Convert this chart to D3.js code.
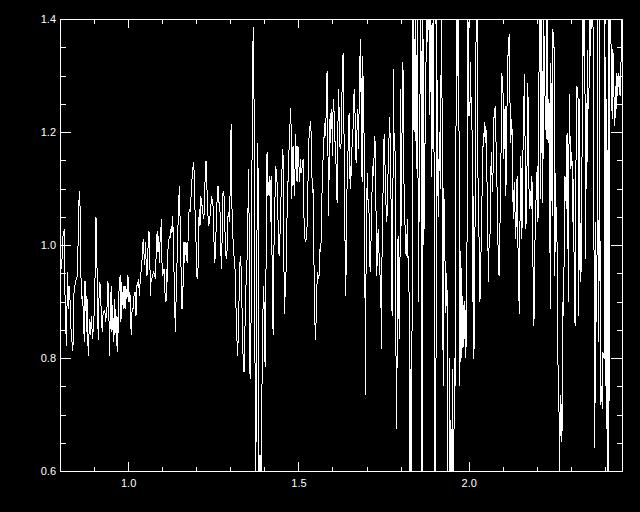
<!DOCTYPE html>
<html>
<head>
<meta charset="utf-8">
<script src="https://cdn.jsdelivr.net/npm/d3@7"></script>
<style>
html, body { margin: 0; padding: 0; background: #000; }
svg { display: block; }
.axis text { fill: #fff; font-family: "Liberation Sans", Arial, sans-serif; font-size: 11px; }
.axis line { stroke: #fff; shape-rendering: crispEdges; }
.axis path { display: none; }
</style>
</head>
<body>
<div id="chart"></div>
<script>
// wavelength grid
var wavelength = [
    0.8008,0.8047,0.8087,0.8126,0.8145,0.8185,0.8224,0.8253,0.8282,0.8312,
    0.8341,0.8380,0.8400,0.8439,0.8478,0.8517,0.8537,0.8566,0.8586,0.8606,
    0.8635,0.8664,0.8694,0.8713,0.8733,0.8752,0.8772,0.8792,0.8811,0.8840,
    0.8860,0.8889,0.8909,0.8929,0.8948,0.8968,0.8987,0.9007,0.9026,0.9056,
    0.9075,0.9095,0.9124,0.9144,0.9173,0.9203,0.9222,0.9242,0.9261,0.9281,
    0.9301,0.9320,0.9340,0.9359,0.9379,0.9399,0.9418,0.9438,0.9457,0.9477,
    0.9506,0.9526,0.9545,0.9575,0.9594,0.9614,0.9633,0.9653,0.9673,0.9692,
    0.9722,0.9741,0.9771,0.9790,0.9810,0.9829,0.9859,0.9878,0.9908,0.9927,
    0.9947,0.9966,0.9986,1.0005,1.0025,1.0054,1.0074,1.0094,1.0113,1.0143,
    1.0172,1.0191,1.0211,1.0231,1.0250,1.0270,1.0289,1.0309,1.0329,1.0358,
    1.0378,1.0397,1.0417,1.0436,1.0456,1.0475,1.0495,1.0515,1.0534,1.0554,
    1.0573,1.0593,1.0612,1.0632,1.0652,1.0671,1.0691,1.0720,1.0750,1.0769,

    1.0779,1.0808,1.0828,1.0857,1.0877,1.0896,1.0916,1.0936,1.0955,1.0975,
    1.0994,1.1014,1.1034,1.1053,1.1073,1.1092,1.1112,1.1131,1.1151,1.1171,
    1.1190,1.1210,1.1229,1.1249,1.1269,1.1288,1.1308,1.1327,1.1347,1.1366,
    1.1386,1.1406,1.1425,1.1445,1.1464,1.1484,1.1503,1.1523,1.1543,1.1562,
    1.1582,1.1601,1.1621,1.1641,1.1660,1.1680,1.1699,1.1719,1.1738,1.1758,
    1.1778,1.1797,1.1817,1.1836,1.1856,1.1876,1.1895,1.1915,1.1934,1.1954,
    1.1973,1.1993,1.2013,1.2032,1.2052,1.2071,1.2091,1.2110,1.2130,1.2150,
    1.2169,1.2189,1.2208,1.2228,1.2248,1.2267,1.2287,1.2306,1.2326,1.2345,
    1.2365,1.2385,1.2404,1.2424,1.2443,1.2463,1.2482,1.2502,1.2522,1.2541,
    1.2561,1.2580,1.2600,1.2620,1.2639,1.2659,1.2678,1.2698,1.2717,1.2737,
    1.2757,1.2776,1.2796,1.2815,1.2835,1.2855,1.2874,1.2894,1.2913,1.2933,
    1.2952,1.2972,1.2992,1.3011,1.3031,1.3050,1.3070,1.3089,1.3109,1.3129,
    1.3148,1.3168,1.3187,1.3207,1.3227,1.3246,1.3266,1.3285,1.3305,1.3324,
    1.3344,1.3364,1.3383,1.3403,1.3422,1.3442,1.3461,1.3481,1.3501,1.3520,
    1.3540,1.3559,1.3579,1.3599,1.3618,

    1.3658,1.3678,1.3698,1.3717,1.3737,1.3756,1.3776,1.3795,1.3815,1.3835,
    1.3854,1.3874,1.3893,1.3923,1.3952,1.3981,1.4001,1.4021,1.4040,1.4060,
    1.4079,1.4099,1.4118,1.4138,1.4158,1.4177,1.4197,1.4216,1.4236,1.4256,
    1.4275,1.4295,1.4314,1.4334,1.4353,1.4373,1.4393,1.4412,1.4432,1.4451,
    1.4471,1.4490,1.4510,1.4530,1.4549,1.4569,1.4588,1.4608,1.4628,1.4647,
    1.4667,1.4686,1.4706,1.4725,1.4745,1.4765,1.4784,1.4804,1.4823,1.4843,
    1.4862,1.4882,1.4902,1.4921,1.4941,1.4960,1.4980,1.5000,1.5019,1.5039,
    1.5058,1.5078,1.5097,1.5117,1.5137,1.5156,1.5176,1.5195,1.5215,1.5235,
    1.5254,1.5274,1.5293,1.5313,1.5332,1.5352,1.5372,1.5391,1.5411,1.5430,
    1.5450,1.5469,1.5489,1.5509,1.5528,1.5548,1.5567,1.5587,1.5607,1.5626,
    1.5646,1.5665,1.5685,1.5704,1.5724,1.5744,1.5763,1.5783,1.5802,1.5822,
    1.5842,1.5861,1.5881,1.5900,1.5920,1.5939,1.5959,1.5979,1.5998,1.6018,
    1.6037,1.6057,1.6076,1.6096,1.6116,1.6135,1.6155,1.6174,1.6194,1.6214,
    1.6233,1.6253,1.6272,1.6292,1.6311,1.6331,1.6351,1.6370,1.6390,1.6409,
    1.6429,1.6449,1.6468,

    1.6498,1.6517,1.6537,1.6556,1.6576,1.6595,1.6615,1.6635,1.6654,1.6674,
    1.6693,1.6713,1.6733,1.6752,1.6772,1.6791,1.6811,1.6830,1.6850,1.6870,
    1.6889,1.6909,1.6928,1.6948,1.6968,1.6987,1.7007,1.7026,1.7046,1.7065,
    1.7085,1.7105,1.7124,1.7144,1.7163,1.7183,1.7202,1.7222,1.7242,1.7261,
    1.7281,1.7300,1.7320,1.7340,1.7359,1.7379,1.7398,1.7418,1.7437,1.7457,
    1.7477,1.7496,1.7516,1.7535,1.7555,1.7574,1.7594,1.7614,1.7633,1.7653,
    1.7672,1.7692,1.7712,1.7731,1.7751,1.7770,1.7790,1.7809,1.7829,1.7849,
    1.7868,1.7888,1.7907,1.7927,1.7947,1.7966,1.7986,1.8005,1.8025,1.8044,
    1.8064,1.8084,1.8103,1.8123,1.8142,1.8162,1.8181,1.8201,1.8221,1.8240,

    1.8259,1.8276,1.8294,1.8311,1.8335,1.8367,1.8394,1.8438,1.8455,1.8497,
    1.8520,1.8549,1.8593,1.8608,1.8629,1.8652,1.8682,1.8711,1.8740,1.8770,
    1.8799,1.8828,1.8858,1.8887,1.8917,1.8946,1.8975,1.8993,1.9016,1.9034,
    1.9055,1.9081,1.9108,1.9137,1.9166,1.9202,1.9225,1.9249,1.9269,1.9299,
    1.9328,1.9357,1.9381,1.9395,1.9431,1.9445,1.9460,1.9504,1.9513,1.9522,1.9563,1.9572,
    1.9598,1.9642,1.9666,1.9689,1.9713,1.9739,1.9769,1.9798,1.9827,1.9857,
    1.9886,1.9915,1.9945,

    1.9974,1.9994,2.0013,2.0033,2.0053,2.0072,2.0092,2.0111,
    2.0131,2.0150,2.0170,2.0190,2.0209,2.0229,2.0248,2.0268,2.0287,2.0307,
    2.0327,2.0346,2.0366,2.0385,2.0405,2.0424,2.0444,2.0464,2.0483,2.0503,
    2.0522,2.0542,2.0562,2.0581,2.0601,2.0620,2.0640,2.0659,2.0679,2.0699,
    2.0718,2.0738,2.0757,2.0777,2.0797,2.0816,2.0836,2.0855,2.0875,2.0894,
    2.0914,2.0934,2.0953,2.0973,2.0992,2.1012,2.1031,2.1051,2.1071,2.1090,
    2.1110,2.1129,2.1149,2.1169,2.1188,2.1208,2.1227,2.1247,2.1266,2.1286,
    2.1306,2.1325,2.1345,2.1364,2.1384,2.1403,2.1423,2.1443,2.1462,2.1482,
    2.1501,2.1521,2.1541,2.1560,2.1580,2.1599,2.1619,2.1638,2.1658,2.1678,
    2.1697,2.1717,2.1736,2.1756,2.1776,2.1795,2.1815,2.1834,2.1854,2.1873,
    2.1893,2.1913,2.1932,2.1952,2.1971,2.1991,2.2010,2.2030,2.2050,2.2069,

    2.2089,
    2.2118,2.2138,2.2157,2.2177,2.2197,2.2216,2.2236,2.2255,2.2275,2.2295,
    2.2314,2.2334,2.2353,2.2373,2.2392,2.2412,2.2432,2.2451,2.2471,2.2490,
    2.2510,2.2529,2.2549,2.2569,2.2588,2.2608,2.2627,2.2647,2.2667,2.2686,
    2.2706,2.2725,2.2745,2.2764,2.2784,2.2804,2.2823,2.2843,2.2862,2.2882,
    2.2901,2.2921,2.2941,2.2960,2.2980,2.2999,2.3019,2.3039,2.3058,2.3078,
    2.3097,2.3117,2.3136,2.3156,2.3176,2.3195,2.3215,2.3234,2.3254,2.3273,
    2.3293,2.3313,2.3332,2.3352,2.3371,2.3391,2.3410,2.3430,2.3450,2.3469,
    2.3489,2.3508,2.3528,2.3548,2.3567,2.3587,2.3606,2.3626,2.3645,2.3665,
    2.3685,2.3704,2.3724,2.3743,2.3763,2.3782,2.3802,2.3822,2.3841,2.3861,
    2.3880,2.3900,2.3919,2.3939,2.3959,2.3978,2.3998,2.4017,2.4037,2.4057,
    2.4076,2.4096,2.4115,2.4135,2.4154,2.4174,2.4194,2.4213,2.4233,2.4252,
    2.4272,2.4291,2.4311,2.4331,2.4350,2.4370,2.4389,2.4409,2.4428,2.4448,
    2.4468,2.4487
];

// flux at each wavelength (values past the frame are clipped, as in the original)
var flux = [
    0.981,0.958,1.016,1.028,0.916,0.822,0.952,0.887,0.928,0.863,
    0.834,0.813,0.910,0.928,0.940,0.946,1.034,1.096,1.078,0.964,
    0.905,0.910,0.863,0.828,0.937,0.934,0.846,0.910,0.834,0.804,
    0.869,0.840,0.863,0.875,0.834,0.852,0.846,0.893,0.934,1.049,
    1.034,0.905,0.831,0.905,0.934,0.893,0.863,0.846,0.875,0.881,
    0.884,0.881,0.863,0.875,0.887,0.937,0.928,0.869,0.804,0.887,
    0.928,0.846,0.893,0.828,0.905,0.840,0.887,0.822,0.875,0.810,
    0.899,0.934,0.946,0.863,0.934,0.893,0.928,0.887,0.928,0.887,
    0.922,0.905,0.946,0.940,0.899,0.916,0.863,0.840,0.881,0.887,
    0.910,0.916,0.916,0.875,0.922,0.934,0.928,0.940,0.910,0.940,
    0.952,0.964,0.981,1.005,1.011,0.964,0.975,1.005,0.952,0.946,
    0.981,1.005,1.025,1.005,0.910,0.934,0.940,0.946,0.952,0.949,

    0.946,0.940,1.005,1.025,0.987,1.016,0.969,1.005,1.016,1.046,
    0.969,0.946,0.952,0.958,0.922,0.910,0.899,0.958,0.934,0.993,
    1.005,1.016,1.011,1.022,1.034,1.022,1.052,1.016,0.952,0.899,
    0.846,0.899,0.928,1.005,1.034,1.070,1.105,1.052,1.005,0.922,
    0.887,0.905,0.946,1.005,0.969,0.993,1.005,0.975,0.969,1.005,
    1.052,1.064,1.058,1.070,1.099,1.117,1.128,1.146,1.134,1.111,
    1.016,1.005,0.946,0.940,0.958,1.034,1.064,1.034,1.087,1.081,
    1.070,1.064,1.046,1.052,1.087,1.134,1.149,1.122,1.075,1.052,
    1.034,1.040,1.052,1.058,1.087,1.075,1.081,1.058,1.005,0.969,
    0.981,1.022,1.064,1.087,1.105,1.087,1.064,1.058,1.005,0.958,
    1.005,1.087,1.096,1.087,1.040,1.005,0.981,0.975,1.005,1.052,
    1.058,1.040,1.087,1.193,1.214,1.064,1.016,1.005,0.981,0.969,
    0.946,0.887,0.857,0.804,0.828,0.887,0.916,0.969,0.981,0.946,
    0.887,0.828,0.787,0.775,0.828,0.887,0.928,0.946,1.005,1.064,
    1.134,0.975,0.769,0.763,0.969,

    1.340,1.385,1.246,0.969,0.550,0.657,0.899,1.181,1.134,0.550,
    0.622,0.628,0.550,0.710,0.869,0.928,0.863,0.784,0.840,1.111,
    1.164,1.087,1.111,1.087,1.122,1.040,1.122,1.005,0.952,0.840,
    0.969,1.046,1.087,1.140,1.128,1.111,1.064,1.016,0.981,1.005,
    1.040,1.087,1.111,1.170,1.158,1.005,0.878,0.910,0.916,1.005,
    1.052,1.087,1.146,1.170,1.193,1.243,1.211,1.081,1.140,1.176,
    1.122,1.087,1.140,1.196,1.146,1.111,1.176,1.170,1.134,1.111,
    1.152,1.128,1.134,1.140,1.152,1.070,1.016,1.011,1.005,1.016,
    1.034,1.087,1.152,1.193,1.205,1.220,1.199,1.134,1.093,1.099,
    1.005,0.905,0.852,0.831,0.910,0.934,0.952,0.940,0.946,0.993,
    0.987,1.005,1.064,1.134,1.152,1.181,1.205,1.217,1.193,1.270,
    1.308,1.223,1.052,1.122,1.223,1.181,1.240,1.234,1.158,1.246,
    1.258,1.205,1.181,1.164,1.111,1.075,1.181,1.276,1.240,1.176,
    1.170,1.181,1.252,1.299,1.340,1.240,1.122,0.993,0.910,1.005,
    1.111,1.134,1.223,

    1.234,1.099,1.140,1.122,1.181,1.193,1.223,1.276,1.258,1.193,
    1.146,1.181,1.240,1.211,1.170,1.335,1.270,1.365,1.181,1.111,
    1.335,1.240,1.193,0.993,0.734,0.981,1.087,1.128,1.070,1.081,
    1.016,0.952,0.975,1.064,1.099,1.140,1.122,1.158,1.193,1.170,
    1.040,0.946,0.993,1.028,1.005,0.952,0.946,0.928,0.816,1.005,
    1.064,1.143,1.196,1.152,1.122,1.064,1.040,1.075,1.134,1.170,
    1.226,1.193,1.158,0.922,0.875,1.005,1.311,1.181,1.170,1.158,
    0.734,0.675,0.981,1.016,0.887,0.834,1.005,1.276,1.034,1.223,
    1.323,1.282,1.075,1.052,1.005,0.981,1.005,1.046,0.964,0.981,

    0.806,0.550,0.780,0.550,0.850,1.450,1.200,1.450,1.134,1.450,
    0.900,1.100,1.450,1.183,0.550,1.450,1.000,1.150,1.300,1.420,
    1.360,1.460,1.230,1.450,1.120,1.380,1.450,0.550,0.600,0.550,
    1.450,1.150,1.050,1.200,1.100,1.450,1.130,0.750,1.100,0.990,
    0.880,0.950,0.820,0.500,0.500,0.800,0.500,0.500,0.780,0.500,0.500,0.800,
    0.750,1.450,1.300,1.450,1.237,0.750,0.990,0.800,0.910,0.820,
    0.900,0.800,0.910,

    1.450,1.229,1.240,1.229,1.323,1.240,1.211,1.181,
    0.799,1.087,0.816,1.105,1.358,1.364,1.450,1.122,1.111,0.981,
    0.899,0.922,1.011,1.064,1.152,1.181,1.193,1.217,1.181,1.211,
    1.181,1.087,1.005,0.934,1.016,1.005,1.064,1.164,1.134,1.093,
    1.140,1.223,1.234,1.246,1.193,1.146,1.087,1.016,0.952,0.946,
    1.016,1.111,1.181,1.305,1.282,1.264,1.152,1.229,1.246,1.087,
    1.170,1.270,1.329,1.358,1.373,1.270,1.181,1.199,1.223,1.152,
    1.046,1.093,1.111,1.040,1.011,1.099,1.122,1.005,0.958,0.878,
    1.005,1.158,1.128,1.011,1.099,1.193,1.252,1.302,1.152,1.028,
    1.075,1.164,1.287,1.181,1.064,1.099,1.081,1.064,1.122,1.075,
    0.916,0.857,0.916,1.046,1.075,1.099,1.140,1.040,1.075,1.393,

    1.450,
    1.081,1.450,1.252,1.075,1.450,1.335,1.270,1.240,1.187,1.450,
    1.199,1.181,1.258,1.229,0.887,1.323,1.134,1.052,1.382,1.358,
    1.346,0.946,1.128,1.040,1.028,0.910,0.734,0.740,0.550,0.710,
    0.734,0.651,0.681,0.899,0.875,0.999,1.122,1.111,1.064,1.193,
    1.199,0.899,1.158,1.267,1.158,1.134,1.164,1.140,1.040,1.117,
    0.928,0.863,0.857,1.276,1.282,1.264,1.258,0.875,1.258,0.946,
    0.934,1.028,1.211,1.450,1.335,1.450,1.346,0.975,1.252,1.099,
    1.346,1.246,1.240,1.450,1.335,1.450,1.382,1.450,1.393,1.352,
    0.804,0.640,1.040,0.869,0.863,1.450,0.863,0.828,1.450,0.799,
    0.716,0.751,0.710,0.810,0.804,0.799,1.450,0.751,1.258,0.698,
    0.550,1.450,0.550,1.450,1.388,1.376,1.264,1.223,1.346,1.311,
    1.240,1.211,1.282,1.240,1.305,1.264,1.287,1.305,1.270,1.264,
    1.299,1.450
];

var xDomain = [0.8, 2.45];
var yDomain = [0.6, 1.4];
var xTicksMajor = [1.0, 1.5, 2.0];
var xTicksMinor = [0.9, 1.1, 1.2, 1.3, 1.4, 1.6, 1.7, 1.8, 1.9, 2.1, 2.2, 2.3, 2.4];
var yTicksMajor = [0.6, 0.8, 1.0, 1.2, 1.4];
var yTicksMinor = [0.65, 0.7, 0.75, 0.85, 0.9, 0.95, 1.05, 1.1, 1.15, 1.25, 1.3, 1.35];

drawSpectrum = function() {
    var W = 640, H = 512;
    var plot = {left: 60, right: 622, top: 19, bottom: 471};

    var x = d3.scaleLinear().domain(xDomain).range([plot.left, plot.right]);
    var y = d3.scaleLinear().domain(yDomain).range([plot.bottom, plot.top]);

    var data = wavelength.map(function(w, i) { return {w: w, f: flux[i]}; });

    var svg = d3.select('#chart').append('svg')
        .attr('width', W)
        .attr('height', H)
        .style('background', '#000');

    svg.append('rect')
        .attr('width', W).attr('height', H)
        .attr('fill', '#000');

    svg.append('clipPath').attr('id', 'plotclip')
        .append('rect')
        .attr('x', plot.left).attr('y', plot.top)
        .attr('width', plot.right - plot.left).attr('height', plot.bottom - plot.top);

    var line = d3.line()
        .x(function(d) { return x(d.w); })
        .y(function(d) { return y(d.f); });

    svg.append('path')
        .datum(data)
        .attr('clip-path', 'url(#plotclip)')
        .attr('fill', 'none')
        .attr('stroke', '#fff')
        .attr('stroke-width', 1)
        .style('shape-rendering', 'crispEdges')
        .attr('d', line);

    // axes, ticks point inward like the original
    var fmt = d3.format('.1f');

    svg.append('g').attr('class', 'axis')
        .attr('transform', 'translate(0,' + plot.bottom + ')')
        .call(d3.axisBottom(x).tickValues(xTicksMajor).tickSize(-9).tickPadding(8).tickFormat(fmt));
    svg.append('g').attr('class', 'axis')
        .attr('transform', 'translate(0,' + plot.bottom + ')')
        .call(d3.axisBottom(x).tickValues(xTicksMinor).tickSize(-4.5).tickFormat(''));
    svg.append('g').attr('class', 'axis')
        .attr('transform', 'translate(0,' + plot.top + ')')
        .call(d3.axisTop(x).tickValues(xTicksMajor).tickSize(-9).tickFormat(''));
    svg.append('g').attr('class', 'axis')
        .attr('transform', 'translate(0,' + plot.top + ')')
        .call(d3.axisTop(x).tickValues(xTicksMinor).tickSize(-4.5).tickFormat(''));

    svg.append('g').attr('class', 'axis')
        .attr('transform', 'translate(' + plot.left + ',0)')
        .call(d3.axisLeft(y).tickValues(yTicksMajor).tickSize(-11).tickPadding(4).tickFormat(fmt));
    svg.append('g').attr('class', 'axis')
        .attr('transform', 'translate(' + plot.left + ',0)')
        .call(d3.axisLeft(y).tickValues(yTicksMinor).tickSize(-5.5).tickFormat(''));
    svg.append('g').attr('class', 'axis')
        .attr('transform', 'translate(' + plot.right + ',0)')
        .call(d3.axisRight(y).tickValues(yTicksMajor).tickSize(-11).tickFormat(''));
    svg.append('g').attr('class', 'axis')
        .attr('transform', 'translate(' + plot.right + ',0)')
        .call(d3.axisRight(y).tickValues(yTicksMinor).tickSize(-5.5).tickFormat(''));

    // frame
    svg.append('rect')
        .attr('x', plot.left + 0.5).attr('y', plot.top + 0.5)
        .attr('width', plot.right - plot.left).attr('height', plot.bottom - plot.top)
        .attr('fill', 'none')
        .attr('stroke', '#fff')
        .attr('stroke-width', 1)
        .style('shape-rendering', 'crispEdges');
}

drawSpectrum();
</script>
</body>
</html>
